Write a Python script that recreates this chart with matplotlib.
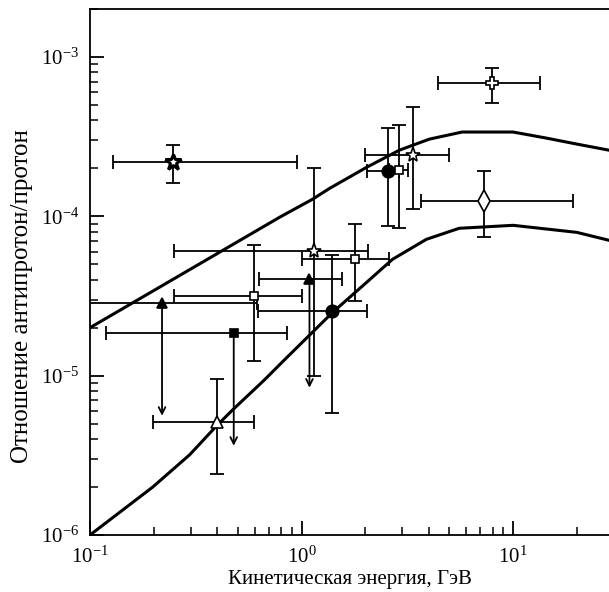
import numpy as np
import matplotlib
matplotlib.use("Agg")
from matplotlib import pyplot as plt
from matplotlib.ticker import LogLocator, NullFormatter

plt.rcParams['font.family'] = ['Liberation Serif', 'DejaVu Serif']
plt.rcParams['mathtext.fontset'] = 'stix'

# theoretical curves
hi_e = [0.1, 0.787, 1.127, 1.36, 2.03, 2.90, 3.37, 4.02, 5.74, 10.0, 14.3, 20.0, 28.4]
hi_r = [2.0e-5, 9.86e-5, 1.28e-4, 1.5e-4, 2.03e-4, 2.6e-4, 2.8e-4, 3.05e-4, 3.38e-4, 3.38e-4, 3.10e-4, 2.84e-4, 2.6e-4]
lo_e = [0.1, 0.198, 0.296, 0.397, 0.473, 0.669, 0.832, 1.40, 2.03, 2.69, 3.89, 5.56, 10.0, 20.0, 28.4]
lo_r = [1.0e-6, 2.0e-6, 3.19e-6, 4.85e-6, 6.11e-6, 9.43e-6, 1.26e-5, 2.49e-5, 3.85e-5, 5.37e-5, 7.17e-5, 8.41e-5, 8.78e-5, 7.93e-5, 7.07e-5]

# measurements: energy, ratio, energy range, ratio range (None -> upper limit)
energy = [0.246, 1.14, 1.09, 1.40, 1.78, 0.594, 0.219, 0.478, 0.397, 2.57, 2.90, 3.38, 7.3, 7.96]
ratio = [2.19e-4, 6.03e-5, 4.07e-5, 2.53e-5, 5.37e-5, 3.14e-5, 2.84e-5, 1.84e-5, 5.14e-6, 1.92e-4, 1.95e-4, 2.42e-4, 1.24e-4, 6.85e-4]
e_lo = [0.128, 0.249, 0.627, 0.62, 1.0, 0.249, 0.09, 0.119, 0.198, 2.03, 2.6, 2.0, 3.68, 4.43]
e_hi = [0.947, 2.05, 1.545, 2.03, 2.60, 1.0, 0.614, 0.849, 0.594, 2.9, 3.2, 4.99, 19.2, 13.4]
r_lo = [1.61e-4, 1.0e-5, None, 5.85e-6, 2.96e-5, 1.24e-5, None, None, 2.42e-6, 8.65e-5, 8.5e-5, 1.11e-4, 7.38e-5, 5.14e-4]
r_hi = [2.8e-4, 2.0e-4, None, 5.69e-5, 8.9e-5, 6.57e-5, None, None, 9.58e-6, 3.58e-4, 3.74e-4, 4.85e-4, 1.92e-4, 8.53e-4]
arrow_end = [None, None, 8.4e-6, None, None, None, 5.6e-6, 3.63e-6, None, None, None, None, None, None]
markers = ['*', '*', '^', 'o', 's', 's', '^', 's', '^', 'o', 's', '*', 'd', 'P']
filled = [False, False, True, True, False, False, True, True, False, True, False, False, False, False]
msizes = [12, 11, 7, 9, 6, 6, 7, 6, 8, 9, 6, 11, 11, 9]

fig = plt.figure(figsize=(6.09, 5.92), dpi=100)
ax = fig.add_axes([90 / 609, 57 / 592, 519 / 609, 526 / 592])

ax.plot(hi_e, hi_r, color='black', lw=2.2, zorder=2)
ax.plot(lo_e, lo_r, color='black', lw=2.2, zorder=2)

for i in range(len(energy)):
    x, y = energy[i], ratio[i]
    xerr = [[x - e_lo[i]], [e_hi[i] - x]]
    if r_lo[i] is not None:
        yerr = [[y - r_lo[i]], [r_hi[i] - y]]
    else:
        yerr = None
    ax.errorbar(x, y, xerr=xerr, yerr=yerr, fmt='none', ecolor='black',
                elinewidth=1.3, capsize=4.7, capthick=1.3, zorder=3)
    if arrow_end[i] is not None:
        ax.annotate('', xy=(x, arrow_end[i]), xytext=(x, y),
                    arrowprops=dict(arrowstyle='->', lw=1.3, color='black',
                                    mutation_scale=12, shrinkA=0, shrinkB=0),
                    zorder=3)
    ax.plot(x, y, linestyle='none', marker=markers[i], ms=msizes[i],
            mfc='black' if filled[i] else 'white', mec='black',
            mew=2.2 if i == 0 else 1.2, zorder=4)

ax.set_xscale('log')
ax.set_yscale('log')
ax.set_xlim(0.1, 28.4)
ax.set_ylim(1e-6, 2.0e-3)

ax.spines['right'].set_visible(False)
for s in ['left', 'bottom', 'top']:
    ax.spines[s].set_linewidth(1.3)

ax.xaxis.set_major_locator(LogLocator(base=10, numticks=10))
ax.yaxis.set_major_locator(LogLocator(base=10, numticks=10))
ax.xaxis.set_minor_locator(LogLocator(base=10, subs=np.arange(2, 10), numticks=20))
ax.yaxis.set_minor_locator(LogLocator(base=10, subs=np.arange(2, 10), numticks=20))
ax.xaxis.set_minor_formatter(NullFormatter())
ax.yaxis.set_minor_formatter(NullFormatter())
ax.tick_params(which='major', direction='in', length=10, width=1.3, labelsize=15, pad=8)
ax.tick_params(which='minor', direction='in', length=6, width=1.1)
ax.tick_params(top=False, right=False, which='both')

ax.set_xlabel('Кинетическая энергия, ГэВ', fontsize=15, labelpad=2)
ax.set_ylabel('Отношение антипротон/протон', fontsize=18)
ax.yaxis.set_label_coords(-0.11, 0.454)

fig.savefig('out.png', dpi=100)
